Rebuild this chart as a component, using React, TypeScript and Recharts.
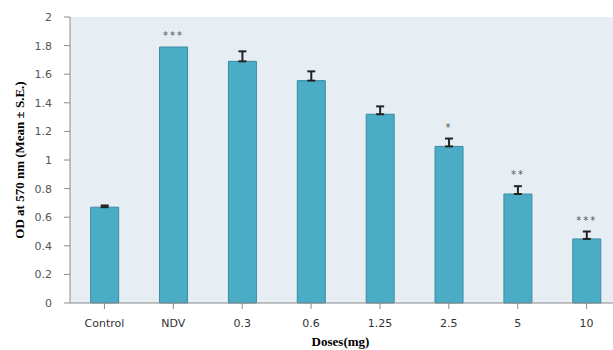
import React from 'react';
import { BarChart, Bar, XAxis, YAxis, ErrorBar, LabelList, CartesianGrid } from 'recharts';

const doses = ['Control', 'NDV', '0.3', '0.6', '1.25', '2.5', '5', '10'];
const means = [0.67, 1.79, 1.69, 1.555, 1.32, 1.095, 0.762, 0.448];
const errors = [0.012, 0, 0.07, 0.065, 0.055, 0.055, 0.055, 0.052];
const significance = ['', '***', '', '', '', '*', '**', '***'];
const yTicks = [0, 0.2, 0.4, 0.6, 0.8, 1, 1.2, 1.4, 1.6, 1.8, 2];

const data = doses.map((d, i) => ({
  dose: d,
  mean: means[i],
  err: errors[i] > 0 ? [0, errors[i]] : null,
  sig: significance[i],
}));

const SigLabel = (props: any) => {
  const { x, y, width, height, index } = props;
  const s = significance[index];
  if (!s) return null;
  const v = means[index];
  const pxPerUnit = height / v;
  const top = y - errors[index] * pxPerUnit;
  return (
    <text
      x={x + width / 2}
      y={top - 8}
      textAnchor="middle"
      fontFamily="DejaVu Sans, sans-serif"
      fontSize={10}
      fill="#555"
      letterSpacing={2}
    >
      {s}
    </text>
  );
};

export default function App() {
  return (
    <div style={{ position: 'absolute', left: 0, top: 0, width: 613, height: 350, overflow: 'hidden', background: '#fff' }}>
      <BarChart
        width={630}
        height={350}
        data={data}
        margin={{ top: 17, right: 9, left: 0, bottom: 0 }}
        barCategoryGap="30%"
      >
        <CartesianGrid fill="#e7eef3" stroke="none" vertical={false} horizontal={false} />
        <XAxis
          dataKey="dose"
          height={47}
          axisLine={{ stroke: '#8a8a8a' }}
          tickLine={{ stroke: '#8a8a8a' }}
          tickSize={6}
          tick={{ fontFamily: 'DejaVu Sans, sans-serif', fontSize: 11, fill: '#333' }}
          tickMargin={10}
          interval={0}
          label={{
            value: 'Doses(mg)',
            position: 'insideBottom',
            offset: 4,
            dx: -5,
            style: { fontFamily: 'Liberation Serif, serif', fontWeight: 'bold', fontSize: 13, fill: '#000' },
          }}
        />
        <YAxis
          domain={[0, 2]}
          ticks={yTicks}
          width={70}
          axisLine={{ stroke: '#8a8a8a' }}
          tickLine={{ stroke: '#8a8a8a' }}
          tickSize={6}
          tickMargin={12}
          tick={{ fontFamily: 'DejaVu Sans, sans-serif', fontSize: 11, fill: '#555' }}
          label={{
            value: 'OD at 570 nm (Mean ± S.E.)',
            angle: -90,
            position: 'insideLeft',
            offset: 0,
            dx: 19,
            style: { textAnchor: 'middle', fontFamily: 'Liberation Serif, serif', fontWeight: 'bold', fontSize: 13, fill: '#000' },
          }}
        />
        <Bar dataKey="mean" fill="#4bacc6" stroke="#3a8aa3" strokeWidth={1} isAnimationActive={false}>
          <ErrorBar dataKey="err" direction="y" width={4} stroke="#222" strokeWidth={2} isAnimationActive={false} />
          <LabelList dataKey="sig" content={SigLabel} />
        </Bar>
      </BarChart>
    </div>
  );
}
